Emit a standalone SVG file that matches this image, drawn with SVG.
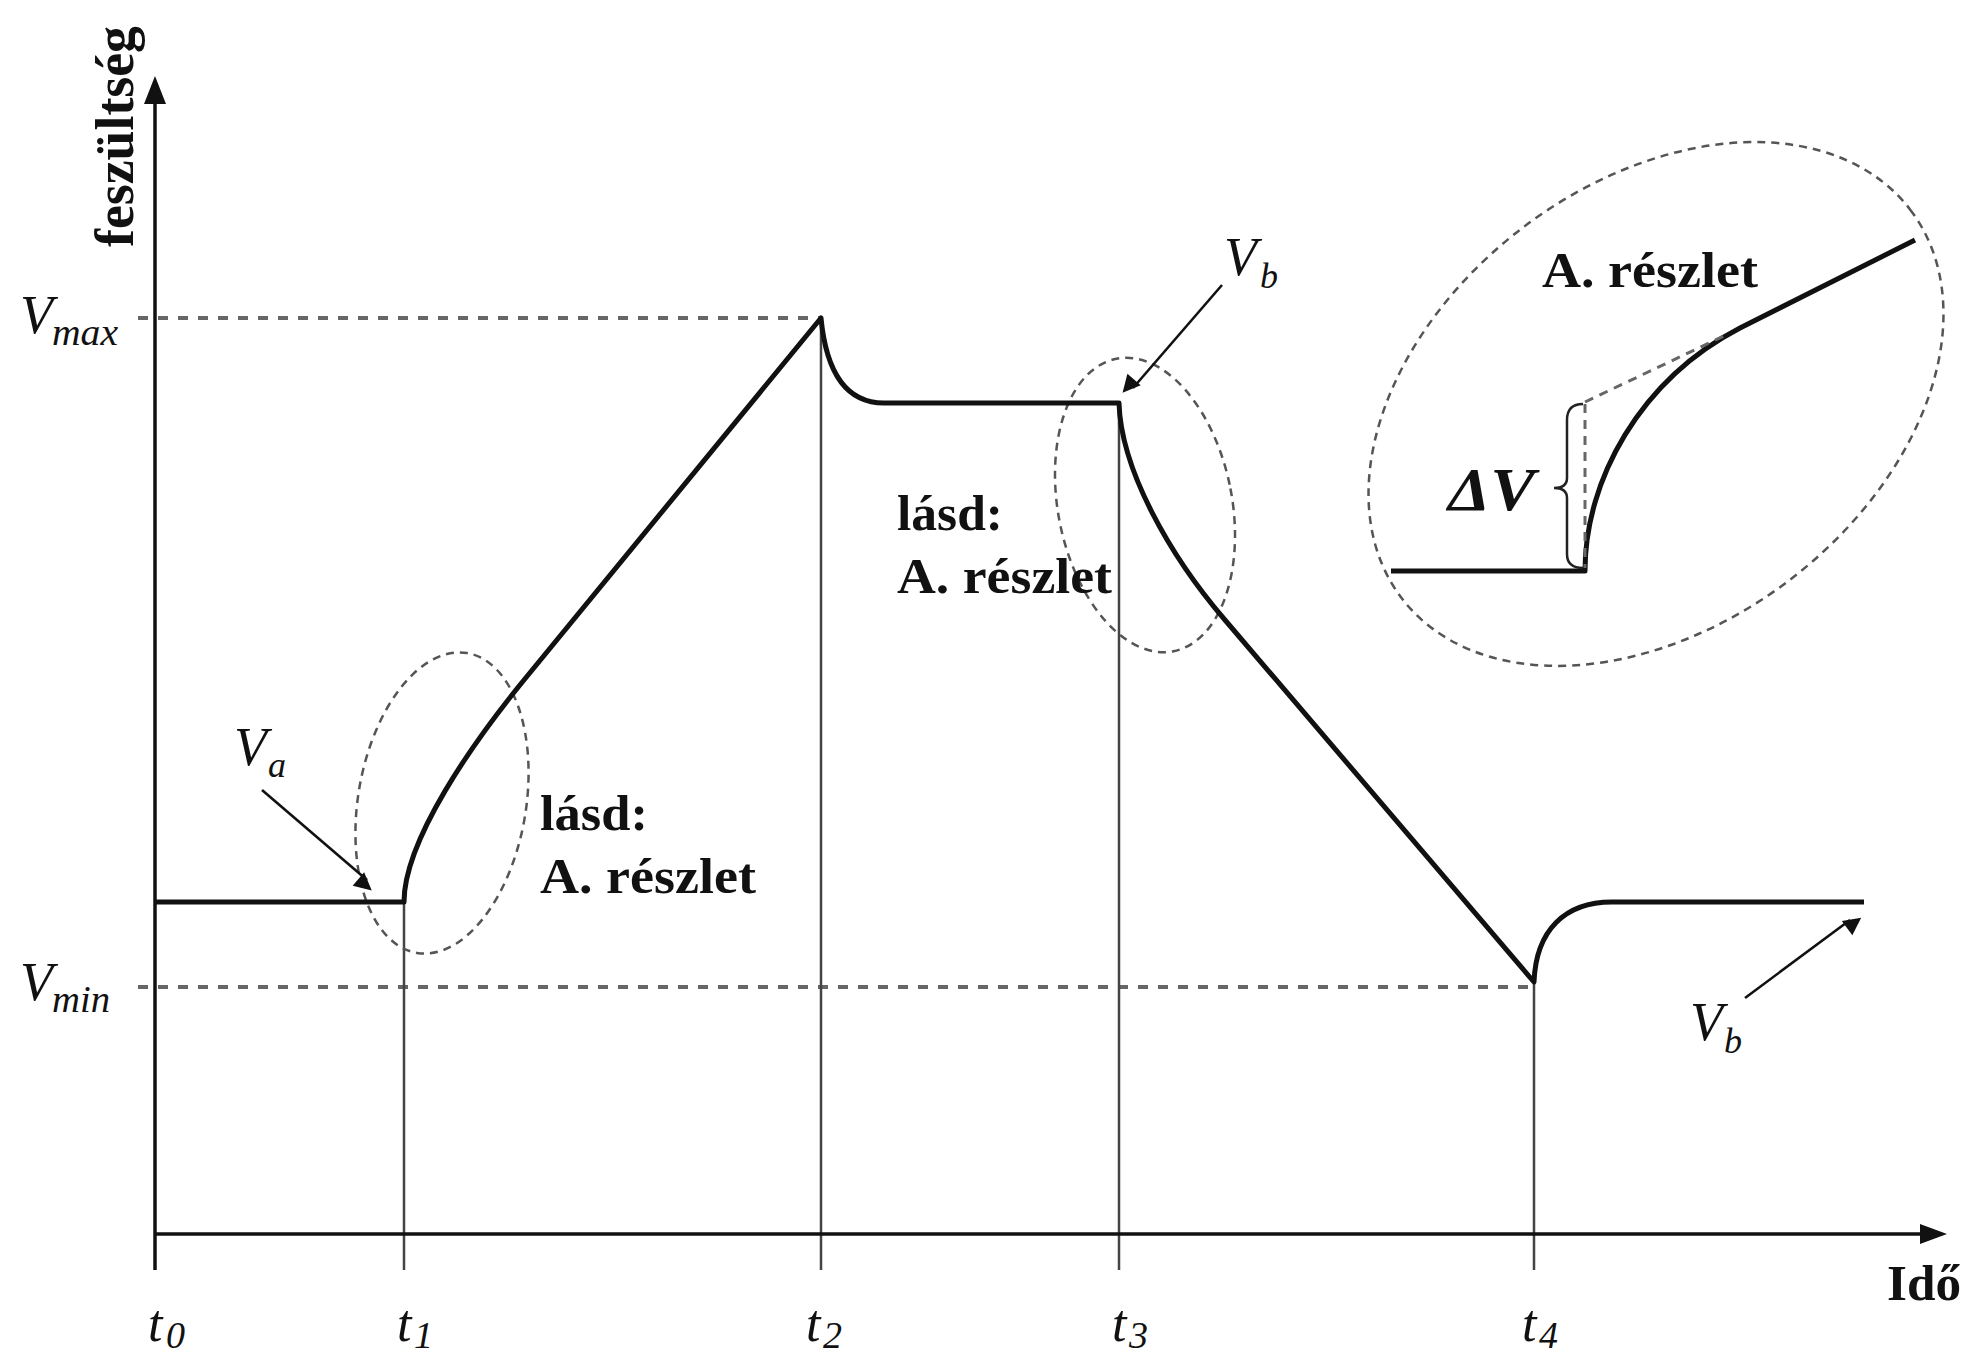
<svg xmlns="http://www.w3.org/2000/svg" width="1980" height="1360" viewBox="0 0 1980 1360">
<style>
.axis{stroke:#111;stroke-width:3.5;fill:none}
.tick{stroke:#444;stroke-width:2.5;fill:none}
.guide{stroke:#666;stroke-width:4;stroke-dasharray:10 10;fill:none}
.curve{stroke:#111;stroke-width:5;fill:none;stroke-linejoin:round}
.ell{stroke:#555;stroke-width:2.5;stroke-dasharray:8 6;fill:none}
.thin{stroke:#222;stroke-width:2.5;fill:none}
.ptr{stroke:#111;stroke-width:2.6;fill:none;marker-end:url(#ah)}
.it{font-family:"Liberation Serif","Times New Roman",serif;font-style:italic;fill:#111}
.bd{font-family:"Liberation Serif","Times New Roman",serif;font-weight:bold;fill:#111}
</style>
<defs>
<marker id="ah" viewBox="0 0 10 10" refX="9" refY="5" markerWidth="8" markerHeight="8" markerUnits="userSpaceOnUse" orient="auto" style="overflow:visible">
<path d="M0,0 L10,5 L0,10 z" fill="#111" transform="scale(2.2)" />
</marker>
</defs>
<rect width="1980" height="1360" fill="#fff"/>

<g id="guides">
<line class="guide" x1="138" y1="318" x2="821" y2="318"/>
<line class="guide" x1="138" y1="987" x2="1534" y2="987"/>
</g>

<g id="ticks">
<line class="tick" x1="404" y1="902" x2="404" y2="1270"/>
<line class="tick" x1="821" y1="318" x2="821" y2="1270"/>
<line class="tick" x1="1119" y1="403" x2="1119" y2="1270"/>
<line class="tick" x1="1534" y1="982" x2="1534" y2="1270"/>
</g>

<g id="axes">
<line class="axis" x1="155" y1="100" x2="155" y2="1270"/>
<polygon points="155,76 144,104 166,104" fill="#111"/>
<line class="axis" x1="155" y1="1234" x2="1924" y2="1234"/>
<polygon points="1947,1234 1920,1224 1920,1244" fill="#111"/>
</g>

<g id="ellipses">
<ellipse class="ell" cx="442" cy="803" rx="84" ry="152" transform="rotate(9.5 442 803)"/>
<ellipse class="ell" cx="1145" cy="505" rx="87" ry="149" transform="rotate(-11 1145 505)"/>
<ellipse class="ell" cx="1656" cy="404" rx="320" ry="221" transform="rotate(-37.4 1656 404)"/>
</g>

<g id="curve">
<path class="curve" d="M155,902 L404,902 C404,840 474,741 524,680 L821,318 C826,370 845,403 884,403 L1119,403 C1121,470 1170,556 1225,620 L1534,982 C1536,930 1565,902 1612,902 L1864,902"/>
</g>

<g id="detail">
<path class="curve" d="M1391,571 L1585,571 C1585,480 1640,380 1740,328 L1915,240"/>
<line class="guide" style="stroke-width:3;stroke-dasharray:9 7" x1="1585" y1="404" x2="1585" y2="568"/>
<line class="guide" style="stroke-width:3;stroke-dasharray:9 7" x1="1585" y1="402" x2="1728" y2="334"/>
<path class="thin" d="M1583,404 Q1567,404 1567,420 L1567,478 Q1567,488 1554,488 Q1567,488 1567,498 L1567,554 Q1567,568 1583,568"/>
<text class="it" style="font-weight:bold" x="1448" y="510" font-size="62" textLength="87" lengthAdjust="spacingAndGlyphs">ΔV</text>
<text class="bd" x="1542" y="287" font-size="50" textLength="216" lengthAdjust="spacingAndGlyphs">A. részlet</text>
</g>

<g id="pointers">
<line class="ptr" x1="262" y1="790" x2="367" y2="880"/>
<line class="ptr" x1="1222" y1="285" x2="1133" y2="388"/>
<line class="ptr" x1="1745" y1="998" x2="1850" y2="920"/>
</g>

<g id="labels">
<text class="bd" transform="translate(133,247) rotate(-90)" x="0" y="0" font-size="54" textLength="221" lengthAdjust="spacingAndGlyphs">feszültség</text>
<text class="bd" x="1887" y="1300" font-size="50" textLength="74" lengthAdjust="spacingAndGlyphs">Idő</text>

<text class="it" x="20" y="333" font-size="54">V</text>
<text class="it" x="52" y="345" font-size="38" textLength="66" lengthAdjust="spacingAndGlyphs">max</text>
<text class="it" x="20" y="1000" font-size="54">V</text>
<text class="it" x="52" y="1012" font-size="38" textLength="58" lengthAdjust="spacingAndGlyphs">min</text>

<text class="it" x="234" y="765" font-size="54">V</text>
<text class="it" x="268" y="777" font-size="36">a</text>
<text class="it" x="1224" y="275" font-size="54">V</text>
<text class="it" x="1260" y="288" font-size="36">b</text>
<text class="it" x="1690" y="1040" font-size="54">V</text>
<text class="it" x="1724" y="1053" font-size="36">b</text>

<text class="bd" x="540" y="830" font-size="50" textLength="108" lengthAdjust="spacingAndGlyphs">lásd:</text>
<text class="bd" x="540" y="893" font-size="50" textLength="216" lengthAdjust="spacingAndGlyphs">A. részlet</text>
<text class="bd" x="897" y="530" font-size="50" textLength="106" lengthAdjust="spacingAndGlyphs">lásd:</text>
<text class="bd" x="897" y="593" font-size="50" textLength="215" lengthAdjust="spacingAndGlyphs">A. részlet</text>

<text class="it" x="148" y="1341" font-size="52">t</text>
<text class="it" x="166" y="1348" font-size="38">0</text>
<text class="it" x="397" y="1341" font-size="52">t</text>
<text class="it" x="414" y="1348" font-size="38">1</text>
<text class="it" x="806" y="1341" font-size="52">t</text>
<text class="it" x="823" y="1348" font-size="38">2</text>
<text class="it" x="1112" y="1341" font-size="52">t</text>
<text class="it" x="1129" y="1348" font-size="38">3</text>
<text class="it" x="1522" y="1341" font-size="52">t</text>
<text class="it" x="1539" y="1348" font-size="38">4</text>
</g>
</svg>
